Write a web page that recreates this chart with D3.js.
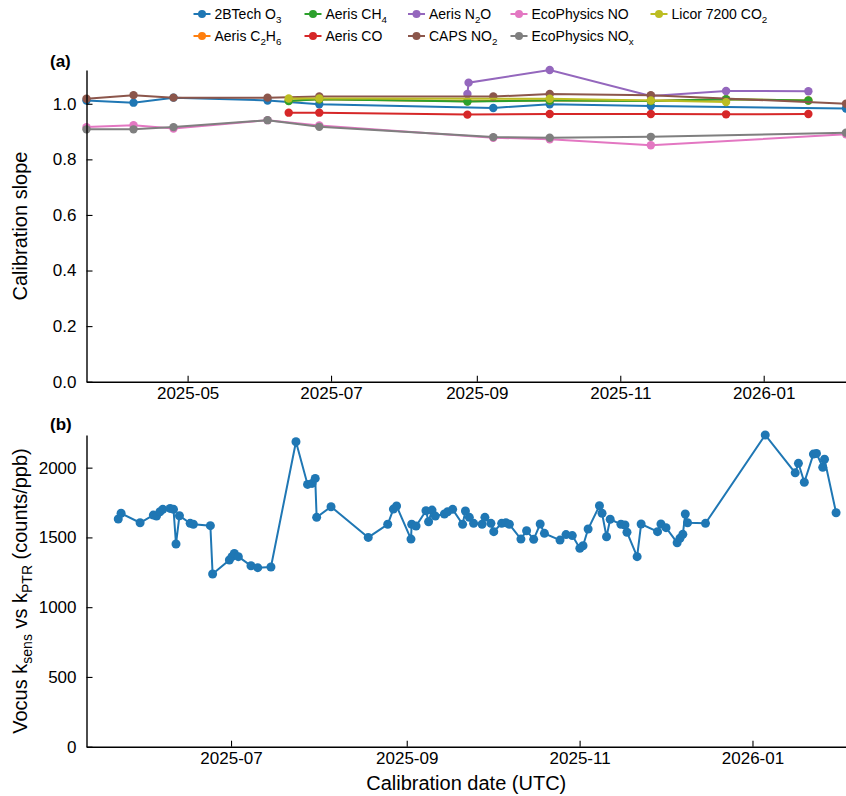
<!DOCTYPE html>
<html><head><meta charset="utf-8">
<script src="https://cdn.jsdelivr.net/npm/d3@7"></script>
<style>
body{margin:0;background:#fff}
text{font-family:"Liberation Sans",Arial,Helvetica,sans-serif;fill:#000}
</style>
</head><body>
<svg id="chart" width="846" height="796"></svg>
<script>
// ---------------- DATA ----------------
// Panel (a): calibration slopes per instrument
const seriesLabels = ["2BTech O_{3}","Aeris C_{2}H_{6}","Aeris CH_{4}","Aeris CO","Aeris N_{2}O","CAPS NO_{2}","EcoPhysics NO","EcoPhysics NO_{x}","Licor 7200 CO_{2}"];
const seriesColors = ["#1f77b4","#ff7f0e","#2ca02c","#d62728","#9467bd","#8c564b","#e377c2","#7f7f7f","#bcbd22"];

const o3Dates   = ["2025-03-19","2025-04-08","2025-04-25","2025-06-04","2025-06-26","2025-09-08","2025-10-02","2025-11-14","2026-02-05"];
const o3Values  = [1.012,1.004,1.022,1.012,0.998,0.985,0.998,0.992,0.983];

const c2h6Dates  = ["2025-06-13","2025-06-26","2025-08-28","2025-10-02","2025-11-14","2025-12-16","2026-01-20"];
const c2h6Values = [1.011,1.016,1.009,1.012,1.011,1.016,1.012];

const ch4Dates  = ["2025-06-13","2025-06-26","2025-08-28","2025-10-02","2025-11-14","2025-12-16","2026-01-20"];
const ch4Values = [1.010,1.016,1.008,1.012,1.010,1.016,1.012];

const coDates   = ["2025-06-13","2025-06-26","2025-08-28","2025-10-02","2025-11-14","2025-12-16","2026-01-20"];
const coValues  = [0.968,0.968,0.961,0.963,0.963,0.962,0.963];

const n2oDates  = ["2025-08-28T00","2025-08-28T12","2025-10-02","2025-11-14","2025-12-16","2026-01-20"];
const n2oValues = [1.035,1.076,1.1215,1.028,1.046,1.045];

const no2Dates  = ["2025-03-19","2025-04-08","2025-04-25","2025-06-04","2025-06-26","2025-09-08","2025-10-02","2025-11-14","2026-02-05"];
const no2Values = [1.018,1.031,1.022,1.022,1.026,1.026,1.035,1.031,1.000];

const noDates   = ["2025-03-19","2025-04-08","2025-04-25","2025-06-04","2025-06-26","2025-09-08","2025-10-02","2025-11-14","2026-02-05"];
const noValues  = [0.916,0.923,0.911,0.941,0.922,0.878,0.872,0.851,0.890];

const noxDates  = ["2025-03-19","2025-04-08","2025-04-25","2025-06-04","2025-06-26","2025-09-08","2025-10-02","2025-11-14","2026-02-05"];
const noxValues = [0.908,0.908,0.916,0.941,0.917,0.880,0.878,0.881,0.896];

const co2Dates  = ["2025-06-13","2025-06-26","2025-10-02","2025-11-14","2025-12-16"];
const co2Values = [1.019,1.019,1.018,1.012,1.006];

// Panel (b): Vocus sensitivity
const vocusDates = [
"2025-05-22T05","2025-05-23T05","2025-05-29T22","2025-06-03T14","2025-06-04T17","2025-06-05T22","2025-06-06T22",
"2025-06-09T12","2025-06-10T17","2025-06-11T14","2025-06-12T19","2025-06-16T14","2025-06-17T17","2025-06-23T17",
"2025-06-24T12","2025-06-30T10","2025-07-01T08","2025-07-02T04","2025-07-03T14","2025-07-08T01","2025-07-10T10",
"2025-07-15T02","2025-07-23T22","2025-07-28T00","2025-07-29T14","2025-07-30T17","2025-07-31T05","2025-08-05T07",
"2025-08-18T10","2025-08-25T07","2025-08-27T07","2025-08-28T10","2025-09-02T12","2025-09-02T18","2025-09-04T07",
"2025-09-07T19","2025-09-08T17","2025-09-09T22","2025-09-11T02","2025-09-14T07","2025-09-15T10","2025-09-17T05",
"2025-09-20T17","2025-09-21T17","2025-09-23T02","2025-09-24T14","2025-09-27T14","2025-09-28T14","2025-09-30T17",
"2025-10-01T17","2025-10-04T12","2025-10-06T00","2025-10-07T05","2025-10-11T07","2025-10-13T07","2025-10-15T19",
"2025-10-18T02","2025-10-19T14","2025-10-25T02","2025-10-27T05","2025-10-29T10","2025-11-01T02","2025-11-02T05",
"2025-11-04T00","2025-11-08T00","2025-11-08T22","2025-11-10T12","2025-11-11T19","2025-11-15T14","2025-11-17T00",
"2025-11-17T17","2025-11-21T07","2025-11-22T17","2025-11-28T12","2025-11-29T17","2025-12-01T12","2025-12-05T10",
"2025-12-06T10","2025-12-07T10","2025-12-08T07","2025-12-09T02","2025-12-15T10","2026-01-05T12","2026-01-16T02",
"2026-01-17T05","2026-01-19T07","2026-01-22T12","2026-01-23T14","2026-01-25T19","2026-01-26T10","2026-01-30T12"];
const vocusValues = [
1632,1673,1605,1660,1653,1684,1701,
1708,1701,1453,1655,1601,1594,1584,
1238,1338,1362,1385,1362,1297,1283,
1288,2186,1880,1887,1923,1644,1720,
1500,1594,1703,1725,1488,1594,1582,
1691,1612,1696,1653,1668,1684,1701,
1594,1689,1644,1601,1594,1644,1601,
1541,1601,1605,1594,1488,1548,1486,
1596,1529,1481,1520,1513,1422,1440,
1560,1727,1673,1505,1630,1594,1589,
1537,1362,1596,1541,1596,1570,1462,
1494,1522,1668,1605,1601,2234,1963,
2031,1895,2097,2102,2002,2060,1677];

const xDomainB = ["2025-05-11","2026-02-03"];
const monthTicksA = ["2025-05","2025-07","2025-09","2025-11","2026-01"];
const monthTicksB = ["2025-07","2025-09","2025-11","2026-01"];
const slopeTicks = [0,0.2,0.4,0.6,0.8,1.0];
const sensTicks = [0,500,1000,1500,2000];

// ---------------- HELPERS ----------------
const pDay = d3.utcParse("%Y-%m-%d"), pHour = d3.utcParse("%Y-%m-%dT%H"), pMonth = d3.utcParse("%Y-%m");
const parseDate = s => s.includes("T") ? pHour(s) : pDay(s);
const zip = (ds, vs) => ds.map((d,i)=>({date: parseDate(d), value: vs[i]}));

const seriesA = [
  zip(o3Dates,o3Values), zip(c2h6Dates,c2h6Values), zip(ch4Dates,ch4Values), zip(coDates,coValues),
  zip(n2oDates,n2oValues), zip(no2Dates,no2Values), zip(noDates,noValues), zip(noxDates,noxValues),
  zip(co2Dates,co2Values)
];
const vocus = zip(vocusDates, vocusValues);

function richText(textSel, label, fs, shift){
  const parts = [];
  const re = /_\{([^}]*)\}/g; let last = 0, m;
  while((m = re.exec(label))){ if(m.index>last) parts.push([label.slice(last,m.index),false]); parts.push([m[1],true]); last = re.lastIndex; }
  if(last<label.length) parts.push([label.slice(last),false]);
  let cur = 0;
  parts.forEach(([t,sub])=>{
    const target = sub ? shift : 0;
    textSel.append("tspan").text(t)
      .attr("font-size", sub ? fs*0.7 : fs)
      .attr("dy", target - cur);
    cur = target;
  });
}

const svg = d3.select("#chart");
const L = 86.5, R = 846;
const A = {top:70, bottom:381.7};
const B = {top:435, bottom:746.7};
const tickFs = 17;

// ---------------- PANEL A ----------------
const allA = seriesA.flat();
const xA = d3.scaleUtc().domain(d3.extent(allA, d=>d.date)).range([L,R]);
const yA = d3.scaleLinear().domain([0, d3.max(allA, d=>d.value)]).range([A.bottom, A.top]);

const gA = svg.append("g");
seriesA.forEach((s,i)=>{
  const g = gA.append("g");
  g.append("path").datum(s)
    .attr("fill","none").attr("stroke",seriesColors[i]).attr("stroke-width",2)
    .attr("d", d3.line().x(d=>xA(d.date)).y(d=>yA(d.value)));
  g.selectAll("circle").data(s).join("circle")
    .attr("cx",d=>xA(d.date)).attr("cy",d=>yA(d.value)).attr("r",4.2)
    .attr("fill",seriesColors[i]);
});

function styleAxis(g){
  g.selectAll(".domain").attr("stroke","#000").attr("stroke-width",1.4);
  g.selectAll(".tick line").attr("stroke","#000").attr("stroke-width",1.1);
  g.selectAll(".tick text").attr("font-size",tickFs).attr("font-family","Liberation Sans, Arial, sans-serif").attr("fill","#000");
}

const axXA = svg.append("g").attr("transform",`translate(0,${A.bottom})`)
  .call(d3.axisBottom(xA).tickValues(monthTicksA.map(pMonth)).tickFormat(d3.utcFormat("%Y-%m"))
    .tickSizeInner(-6).tickSizeOuter(0).tickPadding(5));
styleAxis(axXA);
const axYA = svg.append("g").attr("transform",`translate(${L},0)`)
  .call(d3.axisLeft(yA).tickValues(slopeTicks).tickFormat(d3.format(".1f"))
    .tickSizeInner(-6).tickSizeOuter(0).tickPadding(10));
styleAxis(axYA);

svg.append("text").attr("transform","translate(27,226) rotate(-90)")
  .attr("text-anchor","middle").attr("font-size",20).text("Calibration slope");
svg.append("text").attr("x",50).attr("y",67).attr("font-size",17).attr("font-weight","bold").text("(a)");

// Legend
const legCols = [202, 313, 416.5, 519, 659];
const legRows = [14, 36];
const leg = svg.append("g");
seriesLabels.forEach((lab,i)=>{
  const cx = legCols[Math.floor(i/2)], cy = legRows[i%2];
  leg.append("line").attr("x1",cx-8.5).attr("x2",cx+8.5).attr("y1",cy).attr("y2",cy)
    .attr("stroke",seriesColors[i]).attr("stroke-width",2);
  leg.append("circle").attr("cx",cx).attr("cy",cy).attr("r",4).attr("fill",seriesColors[i]);
  const t = leg.append("text").attr("x",cx+12.5).attr("y",cy+5).attr("font-size",14);
  richText(t, lab, 14, 3.5);
});

// ---------------- PANEL B ----------------
const xB = d3.scaleUtc().domain(xDomainB.map(pDay)).range([L,R]);
const yB = d3.scaleLinear().domain([0, d3.max(vocus, d=>d.value)]).range([B.bottom, B.top]);

svg.append("path").datum(vocus)
  .attr("fill","none").attr("stroke","#1f77b4").attr("stroke-width",2)
  .attr("d", d3.line().x(d=>xB(d.date)).y(d=>yB(d.value)));
svg.append("g").selectAll("circle").data(vocus).join("circle")
  .attr("cx",d=>xB(d.date)).attr("cy",d=>yB(d.value)).attr("r",4.5).attr("fill","#1f77b4");

const axXB = svg.append("g").attr("transform",`translate(0,${B.bottom})`)
  .call(d3.axisBottom(xB).tickValues(monthTicksB.map(pMonth)).tickFormat(d3.utcFormat("%Y-%m"))
    .tickSizeInner(-6).tickSizeOuter(0).tickPadding(5));
styleAxis(axXB);
const axYB = svg.append("g").attr("transform",`translate(${L},0)`)
  .call(d3.axisLeft(yB).tickValues(sensTicks).tickFormat(d3.format("d"))
    .tickSizeInner(-6).tickSizeOuter(0).tickPadding(10));
styleAxis(axYB);

const yLabB = svg.append("text").attr("transform","translate(27,591) rotate(-90)")
  .attr("text-anchor","middle").attr("font-size",20);
richText(yLabB, "Vocus k_{sens} vs k_{PTR} (counts/ppb)", 20, 5);
svg.append("text").attr("x",50).attr("y",430).attr("font-size",17).attr("font-weight","bold").text("(b)");

svg.append("text").attr("x",(L+R)/2).attr("y",790).attr("text-anchor","middle")
  .attr("font-size",20).text("Calibration date (UTC)");
</script>
</body></html>
